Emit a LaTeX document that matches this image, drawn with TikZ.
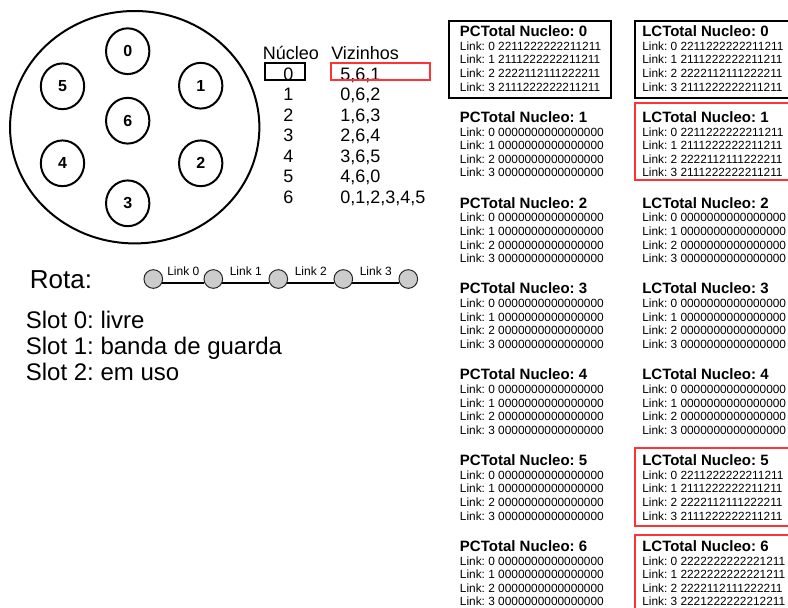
\documentclass[tikz,border=0pt]{standalone}
\usepackage{fontspec}
\setmainfont{Liberation Sans}
\usetikzlibrary{shapes.geometric}
\definecolor{boxred}{RGB}{255,51,51}
\definecolor{dotgray}{RGB}{204,204,204}
\frenchspacing
\begin{document}
\begin{tikzpicture}[x=0.75pt,y=-0.75pt,
  core/.style={draw,ellipse,line width=1.5pt,minimum width=32.5pt,minimum height=34.3pt,inner sep=0pt,font=\bfseries\fontsize{12}{14}\selectfont},
  ring/.style={draw,ellipse,line width=1.5pt,minimum width=187pt,minimum height=174.3pt,inner sep=0pt},
  tab/.style={inner sep=0pt,anchor=base,font=\fontsize{13.5}{16}\selectfont},
  tabw/.style={tab,anchor=base west},
  big/.style={inner sep=0pt,anchor=base west,font=\fontsize{19.5}{22}\selectfont},
  slot/.style={inner sep=0pt,anchor=base west,font=\fontsize{18}{20}\selectfont},
  dot/.style={circle,draw=black!85,line width=0.75pt,fill=dotgray,minimum size=14pt,inner sep=0pt},
  rline/.style={line width=1.5pt},
  lbl/.style={inner sep=0pt,anchor=base,yshift=6pt,font=\fontsize{9}{11}\selectfont},
  ttl/.style={inner sep=0pt,anchor=base west,font=\bfseries\fontsize{11.25}{13}\selectfont},
  lnk/.style={inner sep=0pt,anchor=base west,font=\fontsize{8.9}{10}\selectfont},
  blackbox/.style={draw=black,line width=1.5pt},
  redbox/.style={draw=boxred,line width=1.5pt},
  tblack/.style={draw=black,line width=1.5pt},
  tred/.style={draw=boxred,line width=1.2pt}
]
\useasboundingbox (0,0) rectangle (788,607);
\clip (0,0) rectangle (788,607);
\fill[white] (0,0) rectangle (788,607);

% ring of cores
\node[ring] (ring) at (134.7,127.2) {};
\node[core] (c0) at (127.7,51.2) {0};
\node[core] (c1) at (200.7,85.7) {1};
\node[core] (c2) at (200.7,163.3) {2};
\node[core] (c3) at (127.7,203.3) {3};
\node[core] (c4) at (62.5,163.3) {4};
\node[core] (c5) at (62.5,86.3) {5};
\node[core] (c6) at (127.7,120.7) {6};

% neighbour table
\node[tabw] (hn) at (262.6,59.4) {Núcleo};
\node[tabw] (hv) at (331,59.4) {Vizinhos};
\foreach \i/\v in {0/{5,6,1},1/{0,6,2},2/{1,6,3},3/{2,6,4},4/{3,6,5},5/{4,6,0},6/{0,1,2,3,4,5}}{
  \node[tab] (n\i) at (288.3,{80+20.5*\i}) {\i};
  \node[tabw] (v\i) at (340,{80+20.5*\i}) {\v};
}
\draw[tblack] (265,62.7) rectangle (305,80);
\draw[tred] (331,62.7) rectangle (430,80);

% route
\node[big] (rota) at (29.7,288.3) {Rota:};
\node[dot] (r0) at (153.3,279) {};
\node[dot] (r1) at (213.3,279) {};
\node[dot] (r2) at (278.3,279) {};
\node[dot] (r3) at (343.3,279) {};
\node[dot] (r4) at (408.3,279) {};
\draw[rline] (r0.-25) -- node[lbl] (l0) {Link 0} (r1.205);
\draw[rline] (r1.-25) -- node[lbl] (l1) {Link 1} (r2.205);
\draw[rline] (r2.-25) -- node[lbl] (l2) {Link 2} (r3.205);
\draw[rline] (r3.-25) -- node[lbl] (l3) {Link 3} (r4.205);

\node[slot] (s0) at (25.6,328) {Slot 0: livre};
\node[slot] (s1) at (25.6,354) {Slot 1: banda de guarda};
\node[slot] (s2) at (25.6,380) {Slot 2: em uso};

% slot tables
\def\zz{0000000000000000}
\def\ra{2211222222211211}
\def\rb{2111222222211211}
\def\rc{2222112111222211}
\def\rd{2222222222221211}
\def\re{2221222222212211}
\foreach \k/\la/\lb/\lc/\ld in {0/\ra/\rb/\rc/\rb,1/\zz/\zz/\zz/\zz,2/\zz/\zz/\zz/\zz,3/\zz/\zz/\zz/\zz,4/\zz/\zz/\zz/\zz,5/\zz/\zz/\zz/\zz,6/\zz/\zz/\zz/\zz}{
  \node[ttl] (pct\k) at (459.7,{36.4+85.8*\k}) {PCTotal Nucleo: \k};
  \foreach \j/\s in {0/\la,1/\lb,2/\lc,3/\ld}{
    \node[lnk] (pcl\k\j) at (459.7,{36.2+85.8*\k+14+13.6*\j}) {Link: \j\ \s};
  }
}
\foreach \k/\la/\lb/\lc/\ld in {0/\ra/\rb/\rc/\rb,1/\ra/\rb/\rc/\rb,2/\zz/\zz/\zz/\zz,3/\zz/\zz/\zz/\zz,4/\zz/\zz/\zz/\zz,5/\ra/\rb/\rc/\rb,6/\rd/\rd/\rc/\re}{
  \node[ttl] (lct\k) at (642,{36.4+85.8*\k}) {LCTotal Nucleo: \k};
  \foreach \j/\s in {0/\la,1/\lb,2/\lc,3/\ld}{
    \node[lnk] (lcl\k\j) at (642,{36.2+85.8*\k+14+13.6*\j}) {Link: \j\ \s};
  }
}
\draw[blackbox] (449,20.7) rectangle (611,98);
\draw[blackbox] (635,20.7) rectangle (800,97.7);
\draw[redbox] (635,102.7) rectangle (800,180);
\draw[redbox] (635,448.3) rectangle (800,526);
\draw[redbox] (635,535) rectangle (800,620);
\end{tikzpicture}
\end{document}
